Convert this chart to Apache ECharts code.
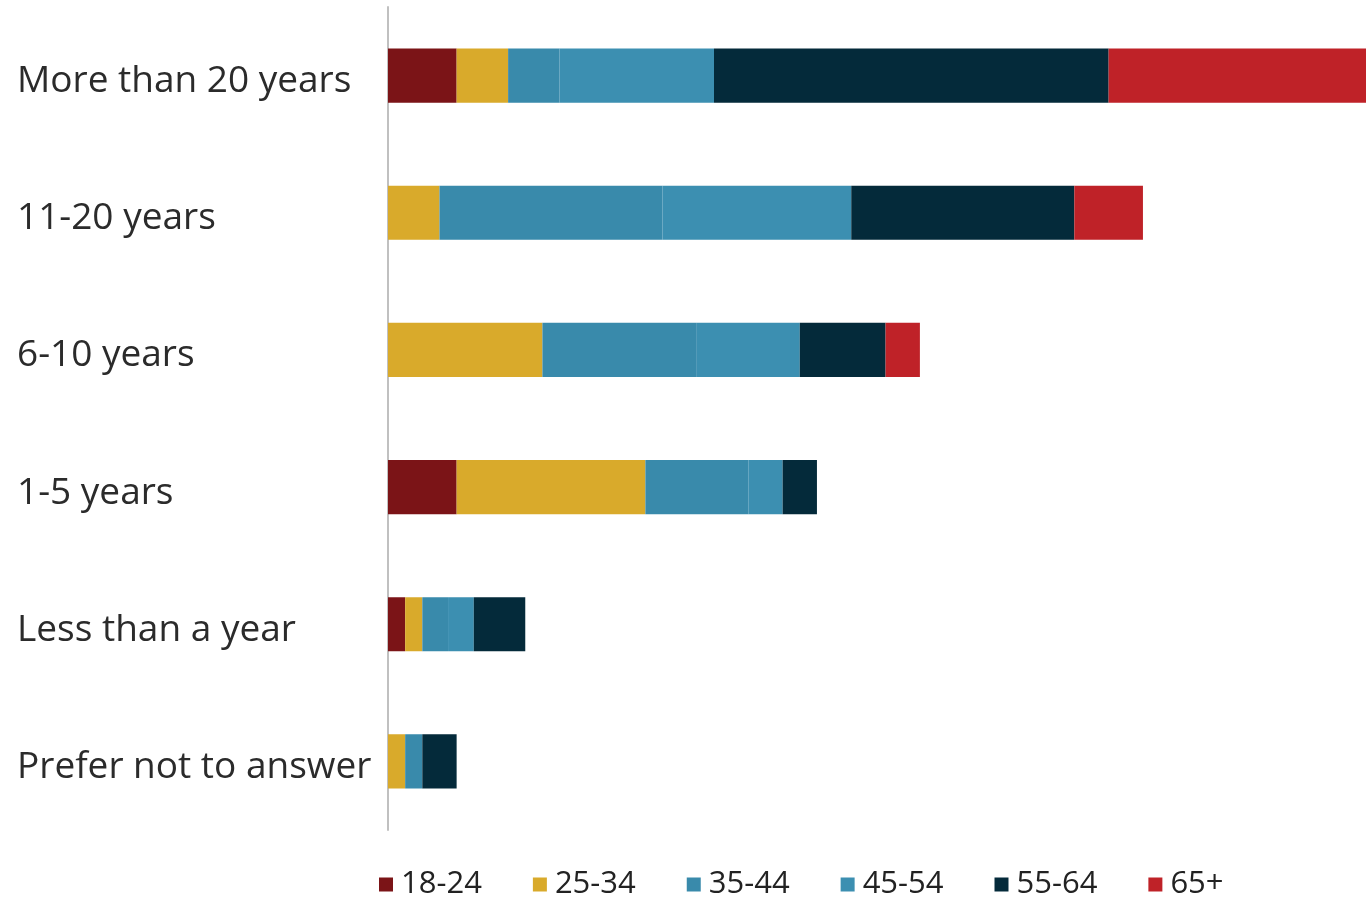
<!DOCTYPE html>
<html>
<head>
<meta charset="utf-8">
<script src="https://cdn.jsdelivr.net/npm/echarts@6/dist/echarts.min.js"></script>
<style>
  html, body { margin: 0; padding: 0; background: #fff; }
  #main { width: 1366px; height: 903px; }
</style>
</head>
<body>
<div id="main"></div>
<script>
// categories, top to bottom
const tenure = ['More than 20 years', '11-20 years', '6-10 years', '1-5 years', 'Less than a year', 'Prefer not to answer'];
const ageGroups = ['18-24', '25-34', '35-44', '45-54', '55-64', '65+'];

// counts per age group, same order as tenure
const age18_24 = [4, 0, 0, 4, 1, 0];
const age25_34 = [3, 3, 9, 11, 1, 1];
const age35_44 = [3, 13, 9, 6, 1.5, 1];
const age45_54 = [9, 11, 6, 2, 1.5, 0];
const age55_64 = [23, 13, 5, 2, 3, 2];
const age65plus = [15, 4, 2, 0, 0, 0];

const seriesData = [age18_24, age25_34, age35_44, age45_54, age55_64, age65plus];
const colors = ['#7b1417', '#d9aa2b', '#398aab', '#3c8fb1', '#042a3a', '#bf2228'];

const chart = echarts.init(document.getElementById('main'));

chart.setOption({
  animation: false,
  grid: { left: 388, right: 0, top: 7, bottom: 73 },
  legend: {
    top: 864,
    left: 374,
    itemWidth: 14,
    itemHeight: 14,
    itemGap: 51,
    icon: 'rect',
    textStyle: {
      fontFamily: '"Open Sans", sans-serif',
      fontSize: 31,
      color: '#222',
      padding: [0, 0, 0, 3]
    },
    data: ageGroups
  },
  xAxis: {
    type: 'value',
    min: 0,
    max: 57,
    show: false
  },
  yAxis: {
    type: 'category',
    data: tenure,
    inverse: true,
    axisLine: { show: true, lineStyle: { color: '#c0c0c0', width: 2 } },
    axisTick: { show: false },
    axisLabel: {
      align: 'left',
      margin: 371,
      formatter: v => '{a|' + v + '}',
      rich: {
        a: {
          padding: [12, 0, 0, 0],
          fontFamily: '"Open Sans", sans-serif',
          fontSize: 37,
          color: '#2b2b2b'
        }
      }
    }
  },
  series: ageGroups.map((name, i) => ({
    name: name,
    type: 'bar',
    stack: 'total',
    barWidth: '39.5%',
    itemStyle: { color: colors[i] },
    data: seriesData[i]
  }))
});
</script>
</body>
</html>
